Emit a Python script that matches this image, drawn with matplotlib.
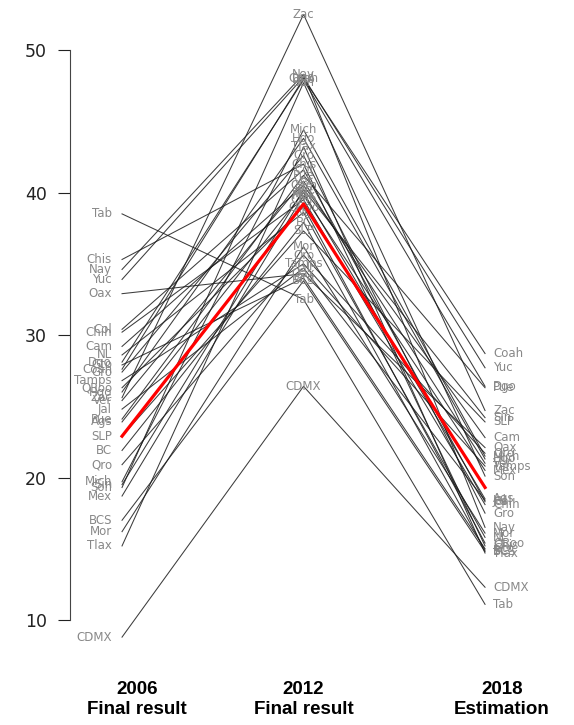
import matplotlib
matplotlib.use("Agg")
from matplotlib import pyplot as plt
from matplotlib import transforms

# state abbreviations and vote share (%) in each column
states = ["Zac", "Nay", "Yuc", "Coah", "Dgo", "Son", "Mich", "Hgo", "Tlax", "Gro",
          "Chis", "Col", "Pue", "Ver", "Cam", "Sin", "Ags", "Mex", "Chih", "QRoo",
          "NL", "BC", "SLP", "Mor", "Qro", "Tamps", "Jal", "Oax", "Gto", "BCS",
          "Tab", "CDMX"]
v2006 = [25.6, 34.6, 33.9, 27.6, 28.1, 19.3, 19.7, 26.0, 15.2, 27.4,
         35.3, 30.4, 24.1, 25.4, 29.2, 19.5, 23.9, 18.7, 30.2, 26.3,
         28.6, 21.9, 22.9, 16.2, 20.9, 26.8, 24.8, 32.9, 27.9, 17.0,
         38.5, 8.8]
v2012 = [52.5, 48.3, 48.1, 48.0, 47.9, 47.7, 44.4, 43.8, 43.2, 42.6,
         42.0, 41.6, 41.2, 40.8, 40.5, 40.2, 40.0, 39.8, 39.5, 39.0,
         38.6, 37.9, 37.3, 36.2, 35.6, 35.0, 34.7, 34.3, 34.0, 33.8,
         32.5, 26.4]
v2018 = [24.7, 16.5, 27.7, 28.7, 26.4, 20.1, 21.5, 21.3, 14.7, 17.5,
         15.2, 18.3, 26.3, 21.0, 22.8, 24.2, 18.5, 20.5, 18.1, 15.4,
         15.8, 14.9, 23.9, 16.1, 21.7, 20.8, 18.4, 22.1, 15.0, 14.8,
         11.1, 12.3]
national = [22.9, 39.2, 19.3]
columns = ["2006\nFinal result", "2012\nFinal result", "2018\nEstimation"]
col_x = [0.083, 1.0, 2.094]

fig = plt.figure(figsize=(5.74, 7.25), dpi=100)
ax = fig.add_axes([0.122, 0.1055, 0.8495, 0.8845])

for s, a, b, c in zip(states, v2006, v2012, v2018):
    ax.plot([0, 1, 2], [a, b, c], color="#1a1a1a", lw=0.75, alpha=0.85)
    ax.text(-0.055, a, s, ha="right", va="center", fontsize=8.5, color="#888888")
    ax.text(1, b, s, ha="center", va="center", fontsize=8.5, color="#888888")
    ax.text(2.044, c, s, ha="left", va="center", fontsize=8.5, color="#888888")

ax.plot([0, 1, 2], national, color="red", lw=2.3, zorder=5)

ax.set_xlim(-0.2865, 2.4)
ax.set_ylim(8, 53)
for side in ["top", "right", "bottom"]:
    ax.spines[side].set_visible(False)
ax.spines["left"].set_bounds(10, 50)
ax.spines["left"].set_color("#444444")
ax.set_xticks([])
ax.set_yticks([10, 20, 30, 40, 50])
ax.tick_params(axis="y", length=8.5, pad=8, labelsize=12.5, colors="#222222")

trans = transforms.blended_transform_factory(ax.transData, fig.transFigure)
for x, lab in zip(col_x, columns):
    ax.text(x, 0.0352, lab, transform=trans, ha="center", va="center",
            fontsize=13.5, fontweight="bold", family="Liberation Sans",
            multialignment="center")

plt.savefig("out.png", dpi=100)
